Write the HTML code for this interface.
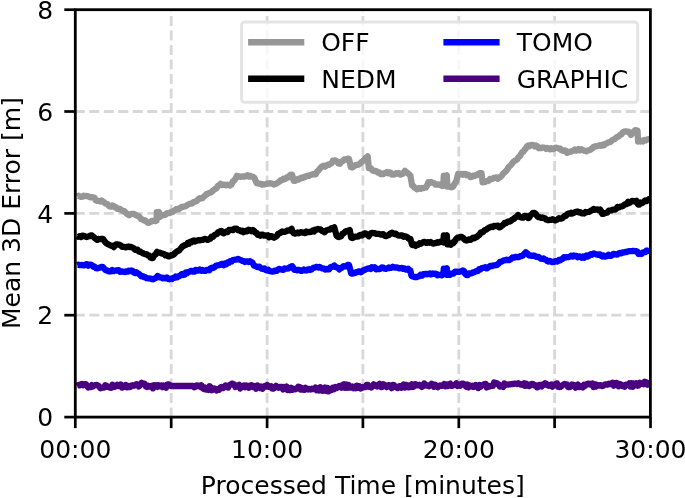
<!DOCTYPE html>
<html lang="en"><head><meta charset="utf-8"><title>Mean 3D Error vs Processed Time</title>
<style>html,body{margin:0;padding:0;background:#fff}body{width:685px;height:498px;overflow:hidden}</style>
</head><body>
<svg width="685" height="498" viewBox="0 0 685 498" style="display:block">
<rect width="685" height="498" fill="#fff"/>
<g stroke="#d8d8d8" stroke-width="2.8" stroke-dasharray="10 4.5" fill="none"><line x1="171.2" y1="417.1" x2="171.2" y2="9.7" stroke-dashoffset="0.4"/><line x1="267.1" y1="417.1" x2="267.1" y2="9.7" stroke-dashoffset="0.4"/><line x1="362.9" y1="417.1" x2="362.9" y2="9.7" stroke-dashoffset="0.4"/><line x1="458.8" y1="417.1" x2="458.8" y2="9.7" stroke-dashoffset="0.4"/><line x1="554.6" y1="417.1" x2="554.6" y2="9.7" stroke-dashoffset="0.4"/><line x1="75.3" y1="315.2" x2="650.5" y2="315.2" stroke-dashoffset="0.5"/><line x1="75.3" y1="213.4" x2="650.5" y2="213.4" stroke-dashoffset="0.5"/><line x1="75.3" y1="111.5" x2="650.5" y2="111.5" stroke-dashoffset="0.5"/></g>
<defs><clipPath id="ax"><rect x="75.3" y="9.7" width="575.1" height="407.4"/></clipPath></defs>
<g clip-path="url(#ax)" fill="none" stroke-width="6.3" stroke-linejoin="round" stroke-linecap="butt">
<path stroke="#969696" d="M77.4 196.6 L78.5 195.8 L79.5 196.4 L80.9 196.9 L82.3 196.7 L83.6 195.7 L85.0 196.1 L86.4 196.0 L87.8 196.2 L89.2 196.8 L90.5 197.3 L91.9 197.1 L93.3 197.3 L94.7 198.1 L96.0 200.5 L97.4 200.8 L98.8 200.9 L100.1 201.6 L101.5 200.4 L102.8 201.5 L104.2 202.3 L105.5 203.7 L106.9 203.8 L108.3 205.2 L109.6 206.4 L110.9 206.7 L112.2 205.5 L113.4 205.8 L114.7 207.1 L116.0 207.4 L117.3 208.9 L118.6 208.6 L120.0 209.0 L121.3 210.1 L122.6 210.9 L123.9 210.9 L125.2 212.1 L126.5 213.4 L127.8 214.3 L129.1 215.2 L130.6 214.3 L132.0 213.8 L133.5 213.9 L134.8 214.2 L136.1 215.4 L137.5 215.9 L138.8 216.2 L140.1 217.9 L141.4 219.3 L142.7 219.6 L144.0 220.5 L145.3 220.5 L146.6 221.8 L147.9 222.8 L149.2 222.6 L150.5 222.0 L151.8 220.9 L153.0 220.9 L154.3 220.8 L155.4 221.1 L156.6 220.6 L156.8 212.2 L157.9 212.5 L158.9 212.0 L159.2 216.2 L160.3 216.7 L161.5 215.6 L162.9 214.9 L164.3 215.2 L165.7 214.4 L167.0 213.2 L168.4 213.2 L169.8 213.2 L171.2 212.0 L172.5 212.1 L173.7 210.9 L175.0 210.5 L176.3 209.0 L177.6 208.8 L178.8 209.2 L180.1 208.0 L181.4 207.0 L182.6 207.1 L183.9 206.5 L185.2 206.3 L186.5 205.7 L187.8 204.6 L189.1 204.1 L190.4 203.7 L191.8 203.6 L193.1 202.5 L194.4 201.7 L195.7 201.4 L197.0 200.8 L198.4 199.1 L199.7 198.2 L201.1 198.5 L202.4 198.2 L203.8 196.6 L205.2 195.4 L206.5 194.1 L207.9 193.8 L209.3 192.8 L210.7 192.7 L212.2 191.4 L213.6 190.0 L215.0 189.0 L216.4 188.4 L217.8 186.0 L219.1 185.2 L220.5 183.9 L221.9 185.1 L223.2 184.7 L224.6 184.9 L226.0 185.3 L227.3 184.7 L228.7 185.0 L230.1 185.6 L231.4 184.6 L232.8 181.5 L234.2 180.7 L235.5 178.6 L236.9 175.8 L238.2 176.6 L239.5 176.5 L240.9 176.8 L242.2 176.4 L243.5 176.5 L244.8 176.5 L246.1 176.1 L247.4 175.3 L248.7 176.6 L250.0 175.8 L251.5 176.7 L252.9 176.7 L254.4 178.0 L255.5 180.6 L256.6 183.1 L258.0 183.4 L259.4 183.6 L260.7 183.9 L262.1 184.6 L263.5 184.4 L264.9 184.3 L266.2 184.0 L267.6 183.5 L268.9 183.6 L270.2 183.1 L271.5 183.7 L272.8 183.8 L274.1 184.6 L275.4 183.9 L276.7 183.5 L278.1 182.5 L279.4 181.6 L280.7 180.2 L282.0 180.3 L283.3 178.8 L284.5 179.4 L285.8 178.6 L287.1 177.1 L288.4 177.4 L289.6 175.6 L290.9 174.7 L292.1 174.7 L293.8 180.9 L295.1 180.9 L296.3 179.6 L297.6 179.0 L298.8 179.5 L300.1 178.5 L301.3 177.6 L302.6 178.0 L303.9 176.9 L305.1 177.1 L306.4 176.0 L307.6 175.7 L308.9 176.0 L310.1 175.1 L311.4 174.7 L312.8 174.2 L314.3 174.4 L315.7 174.3 L317.1 171.6 L318.4 170.5 L319.8 168.8 L321.2 167.1 L322.5 166.2 L323.8 165.7 L325.0 166.7 L326.3 165.7 L327.6 164.7 L328.9 164.9 L330.2 164.0 L331.6 163.3 L332.9 160.7 L334.3 160.5 L335.7 160.5 L337.1 161.5 L338.4 163.4 L339.8 163.8 L341.3 161.7 L342.7 161.2 L344.2 159.4 L345.4 159.6 L346.6 159.3 L347.8 158.6 L349.0 159.0 L350.8 167.1 L352.1 167.5 L353.4 166.8 L354.7 165.8 L356.0 164.8 L357.3 164.9 L358.6 164.5 L360.0 163.6 L361.5 162.0 L362.9 160.9 L364.4 159.3 L365.5 158.0 L366.6 157.6 L367.7 156.4 L368.8 168.0 L370.1 167.8 L371.4 168.8 L372.7 170.6 L374.0 171.0 L375.3 170.9 L376.6 171.2 L377.9 172.7 L379.3 172.4 L380.6 174.1 L381.9 173.9 L383.2 174.1 L384.5 173.2 L385.8 172.7 L387.0 172.0 L388.3 173.3 L389.6 172.4 L390.7 172.7 L391.8 174.6 L393.2 174.7 L394.7 174.4 L396.1 173.1 L397.5 173.5 L398.9 173.1 L400.2 174.6 L401.6 174.2 L402.7 174.0 L403.8 172.4 L404.9 170.9 L406.3 172.1 L407.6 173.1 L409.0 174.2 L410.4 175.7 L412.1 185.5 L413.3 185.9 L414.5 187.7 L415.7 188.2 L416.9 189.3 L418.2 188.5 L419.4 188.1 L420.7 188.9 L421.9 188.0 L423.2 188.2 L424.4 187.6 L425.7 187.7 L427.0 185.7 L428.3 182.3 L429.5 183.2 L430.8 181.9 L432.0 182.4 L433.3 182.9 L434.5 183.4 L435.8 184.7 L437.1 184.7 L438.4 184.4 L439.7 184.6 L441.0 185.5 L442.1 186.0 L443.2 185.8 L443.8 175.6 L445.3 176.6 L446.8 175.4 L447.4 186.6 L449.3 186.6 L450.6 187.2 L451.8 187.4 L453.1 186.6 L454.7 183.6 L456.3 181.2 L458.1 173.9 L459.3 174.6 L460.5 174.2 L461.6 173.9 L462.8 174.8 L464.0 173.9 L465.3 173.9 L466.6 175.3 L467.9 174.6 L469.1 175.2 L470.4 177.1 L471.7 176.8 L473.0 175.7 L474.3 176.1 L475.6 175.2 L476.9 175.1 L478.2 173.9 L479.3 173.4 L480.4 173.1 L481.5 173.1 L482.6 182.3 L483.9 181.5 L485.1 182.0 L486.4 181.1 L487.6 181.2 L488.9 180.6 L490.1 178.8 L491.4 179.0 L492.7 178.9 L493.9 177.9 L495.2 177.6 L496.5 177.5 L497.7 178.7 L499.0 177.9 L500.4 177.0 L501.8 175.7 L503.1 173.5 L504.5 172.4 L505.9 171.0 L507.2 169.6 L508.6 167.2 L510.0 165.8 L511.2 164.8 L512.4 163.0 L513.6 161.6 L514.8 160.8 L516.0 160.1 L517.2 159.3 L518.5 157.2 L519.7 156.4 L521.0 154.0 L522.2 152.2 L523.5 151.6 L524.7 149.6 L525.8 148.6 L526.9 146.5 L528.2 145.4 L529.5 146.3 L530.9 145.0 L532.2 144.8 L533.5 145.2 L534.8 146.5 L536.1 145.5 L537.4 146.4 L538.7 148.3 L540.0 148.0 L541.3 148.0 L542.5 147.5 L543.8 147.7 L545.0 147.9 L546.3 148.9 L547.5 147.9 L548.8 148.7 L550.1 149.3 L551.3 148.3 L552.6 149.2 L553.8 149.0 L555.1 147.8 L556.3 147.7 L557.6 148.0 L559.0 148.7 L560.3 148.7 L561.6 150.4 L563.0 150.9 L564.4 150.4 L565.8 150.8 L567.1 152.9 L568.5 152.4 L569.7 151.6 L571.0 151.7 L572.2 151.1 L573.5 150.4 L574.7 149.6 L575.9 150.7 L577.2 150.4 L578.4 149.1 L579.8 150.3 L581.1 149.2 L582.4 149.8 L583.8 150.7 L585.2 150.8 L586.5 151.3 L587.9 150.4 L589.3 150.2 L590.7 149.6 L592.0 148.6 L593.4 147.0 L594.8 146.5 L596.1 146.4 L597.4 145.9 L598.7 145.6 L600.0 145.2 L601.3 145.8 L602.6 144.8 L603.9 145.4 L605.3 143.8 L606.6 143.5 L607.9 142.6 L609.2 142.2 L610.5 142.1 L611.9 140.4 L613.2 139.6 L614.5 139.3 L615.9 137.9 L617.2 136.8 L618.6 136.6 L620.0 134.9 L621.4 134.5 L622.9 132.3 L624.3 131.6 L625.8 131.3 L627.2 131.7 L628.7 131.6 L629.8 133.4 L630.9 134.9 L632.0 133.8 L633.1 132.0 L634.2 131.2 L635.3 130.1 L636.4 130.3 L637.5 130.5 L638.1 141.5 L639.3 140.7 L640.5 141.6 L641.7 140.7 L642.9 141.5 L644.4 140.0 L645.8 140.3 L647.3 139.3 L648.6 139.2 L650.0 139.9"/>
<path stroke="#000" d="M77.2 236.0 L78.3 236.9 L79.5 236.2 L81.0 237.1 L82.4 235.6 L83.8 235.8 L85.3 236.6 L86.6 237.0 L87.9 236.6 L89.3 236.2 L90.6 235.4 L91.9 235.5 L93.3 236.8 L94.7 237.9 L96.0 238.9 L97.4 239.9 L98.8 239.0 L100.1 239.2 L101.5 238.9 L102.8 238.8 L104.2 240.6 L105.5 242.4 L106.9 243.7 L108.3 244.3 L109.7 245.1 L111.0 245.6 L112.4 246.0 L113.8 247.1 L114.9 245.3 L116.0 244.4 L117.1 244.3 L118.4 244.7 L119.6 244.9 L120.9 245.5 L122.2 246.9 L123.4 246.7 L124.7 247.1 L126.0 247.3 L127.3 246.8 L128.6 246.5 L129.8 247.1 L131.1 246.9 L132.4 247.6 L133.7 248.3 L135.0 249.8 L136.2 249.9 L137.5 249.6 L138.8 251.6 L140.1 251.5 L141.4 252.6 L142.7 253.0 L144.0 253.8 L145.3 254.1 L146.6 254.1 L147.8 255.4 L149.1 255.4 L150.3 257.4 L151.6 258.1 L152.8 258.1 L154.2 255.4 L155.7 254.4 L157.1 251.9 L158.5 252.7 L159.9 252.7 L161.4 253.3 L162.8 253.6 L164.2 254.1 L165.5 255.4 L166.9 255.2 L168.2 256.3 L169.6 256.3 L171.0 255.2 L172.3 255.3 L173.7 254.5 L175.1 253.0 L176.4 251.9 L177.6 251.1 L178.9 250.7 L180.1 249.3 L181.4 247.8 L182.6 246.3 L183.9 245.8 L185.1 244.8 L186.4 244.8 L187.6 243.1 L188.9 243.8 L190.1 242.0 L191.4 242.4 L192.6 241.0 L193.9 240.5 L195.1 241.5 L196.4 240.9 L197.6 240.4 L198.9 240.2 L200.1 240.3 L201.4 239.9 L202.6 239.9 L203.9 239.2 L205.1 238.9 L206.4 239.3 L207.6 239.9 L208.9 239.2 L210.1 238.8 L211.6 236.7 L213.0 236.8 L214.5 234.9 L215.7 234.5 L216.9 234.1 L218.1 232.1 L219.3 232.3 L220.5 231.1 L221.6 231.0 L222.7 232.8 L223.8 233.3 L225.1 232.2 L226.4 231.5 L227.7 232.0 L229.0 230.0 L230.3 230.0 L231.6 229.8 L232.9 230.2 L234.3 228.9 L235.6 228.6 L236.9 228.9 L238.2 230.2 L239.5 230.1 L240.9 231.3 L242.2 230.7 L243.5 232.2 L244.8 231.5 L246.1 230.7 L247.4 231.2 L248.7 229.7 L250.0 230.0 L251.5 231.2 L252.9 229.9 L254.4 231.1 L255.5 232.8 L256.6 232.8 L257.7 234.9 L259.0 234.6 L260.3 235.7 L261.5 234.6 L262.8 234.7 L264.1 235.7 L265.4 235.5 L266.6 235.6 L267.9 235.3 L269.1 237.3 L270.4 236.1 L271.6 236.2 L272.9 237.1 L274.1 237.7 L275.5 236.8 L276.9 235.9 L278.2 233.7 L279.6 233.3 L280.9 232.5 L282.2 231.5 L283.5 231.8 L284.7 231.9 L286.0 231.4 L287.3 230.5 L288.7 230.7 L290.2 229.9 L291.6 228.9 L292.7 231.8 L293.8 233.3 L295.1 233.6 L296.3 233.1 L297.6 232.5 L298.8 233.2 L300.1 232.5 L301.3 232.1 L302.6 232.7 L303.9 232.5 L305.1 233.1 L306.4 231.6 L307.6 232.3 L308.9 231.9 L310.1 232.0 L311.4 231.8 L312.7 230.6 L314.0 231.5 L315.3 229.6 L316.6 229.7 L317.9 228.9 L319.2 229.4 L320.5 229.4 L321.9 231.0 L323.2 230.9 L324.5 232.2 L325.9 230.8 L327.2 230.1 L328.6 229.6 L330.0 229.6 L331.4 228.1 L332.9 228.4 L334.3 227.4 L335.4 231.5 L336.5 235.5 L337.6 236.7 L338.7 237.0 L339.8 236.6 L341.1 236.4 L342.4 233.9 L343.8 233.2 L345.1 231.8 L346.4 231.1 L347.5 230.9 L348.6 230.6 L349.7 230.0 L351.2 237.7 L352.4 238.0 L353.6 237.6 L354.9 236.6 L356.1 236.7 L357.3 236.6 L358.5 236.4 L359.6 235.2 L360.8 234.9 L362.0 235.5 L363.2 234.6 L364.3 233.3 L365.5 233.3 L366.6 234.7 L367.7 234.8 L368.8 236.2 L369.9 234.0 L370.9 233.3 L372.3 232.9 L373.6 233.1 L375.0 233.2 L376.4 233.9 L377.8 233.9 L379.1 233.8 L380.5 234.5 L381.9 234.4 L383.3 234.2 L384.6 235.7 L386.0 236.1 L387.4 235.5 L388.9 235.0 L390.3 233.5 L391.8 232.7 L393.1 233.3 L394.4 234.0 L395.7 233.6 L397.0 234.8 L398.3 235.5 L399.6 235.7 L400.9 235.3 L402.1 235.3 L403.4 236.8 L404.7 236.2 L406.0 236.6 L407.5 237.4 L408.9 238.8 L410.4 238.8 L412.1 244.9 L413.3 245.1 L414.5 244.5 L415.6 245.8 L416.8 244.7 L418.0 244.9 L419.5 243.3 L420.9 243.8 L422.4 242.7 L423.8 241.8 L425.1 242.1 L426.5 242.9 L427.9 242.1 L429.3 242.8 L430.6 242.0 L432.0 243.1 L433.4 243.6 L434.7 243.1 L436.0 243.0 L437.3 242.2 L438.6 242.6 L439.9 242.1 L441.0 241.4 L442.1 241.9 L443.2 242.4 L443.8 235.4 L445.3 236.2 L446.8 235.2 L447.4 244.3 L448.6 244.1 L449.8 244.3 L450.9 244.7 L452.0 242.8 L453.1 243.2 L454.5 241.8 L456.0 239.0 L457.4 237.7 L458.9 237.6 L460.3 237.0 L461.8 237.0 L463.3 238.1 L464.7 239.8 L466.2 240.5 L467.7 240.1 L469.1 239.4 L470.6 239.9 L471.9 238.5 L473.1 237.7 L474.4 238.3 L475.7 237.2 L476.9 237.1 L478.2 235.5 L479.5 234.7 L480.8 232.4 L482.2 232.5 L483.5 231.6 L484.8 230.0 L486.1 229.7 L487.4 228.7 L488.8 227.8 L490.1 227.3 L491.4 226.7 L492.7 227.0 L494.0 225.9 L495.3 226.1 L496.6 225.9 L497.9 225.7 L499.0 227.4 L500.4 227.1 L501.8 225.7 L503.1 224.9 L504.5 223.0 L505.9 223.2 L507.2 221.9 L508.6 221.4 L510.0 221.5 L511.3 220.6 L512.5 219.4 L513.8 219.0 L515.2 217.5 L516.7 216.7 L518.1 215.0 L519.2 216.7 L520.3 217.0 L521.4 217.7 L522.9 217.7 L524.3 215.9 L525.8 216.1 L526.9 216.4 L528.0 218.1 L529.1 217.7 L530.4 215.4 L531.7 214.3 L533.0 212.8 L534.4 212.9 L535.8 213.8 L537.2 216.2 L538.6 217.2 L540.0 217.2 L541.3 217.9 L542.5 217.4 L543.8 218.1 L545.0 218.4 L546.3 219.6 L547.5 220.0 L548.8 220.1 L550.1 219.9 L551.3 219.9 L552.6 219.1 L553.8 219.8 L555.1 220.4 L556.3 220.0 L557.6 219.4 L559.0 218.2 L560.3 218.6 L561.6 218.5 L563.0 217.7 L564.5 216.0 L565.9 215.9 L567.4 213.9 L568.7 213.5 L569.9 213.7 L571.2 212.8 L572.4 213.6 L573.7 212.9 L574.9 212.2 L576.2 211.8 L577.6 211.5 L578.9 212.4 L580.2 212.1 L581.6 213.3 L582.9 213.2 L584.2 213.5 L585.5 212.0 L586.7 212.3 L588.0 212.0 L589.3 211.8 L590.8 210.7 L592.2 210.2 L593.7 208.9 L595.0 209.8 L596.3 209.5 L597.6 209.3 L598.9 210.3 L600.2 209.6 L601.3 211.4 L602.4 213.9 L603.7 213.8 L605.0 213.1 L606.2 212.8 L607.5 212.4 L608.8 210.7 L610.1 210.7 L611.4 210.4 L612.6 209.6 L613.9 209.6 L615.1 209.7 L616.4 208.6 L617.6 207.0 L618.9 207.4 L620.2 206.7 L621.5 206.5 L622.8 206.1 L624.1 205.0 L625.4 204.1 L626.7 204.0 L628.0 201.9 L629.4 202.9 L630.7 201.9 L632.0 200.8 L633.5 201.0 L634.9 201.5 L636.4 200.8 L638.1 204.5 L639.3 204.6 L640.5 202.6 L641.6 203.3 L642.8 202.6 L644.0 201.5 L645.2 200.5 L646.4 201.1 L647.6 200.3 L648.8 199.2 L650.0 199.3"/>
<path stroke="#0000ff" d="M77.2 265.0 L78.3 264.6 L79.5 265.1 L80.7 265.2 L82.0 264.9 L83.2 265.3 L84.5 265.3 L85.7 264.3 L86.9 264.2 L88.2 265.7 L89.4 264.7 L90.7 264.6 L91.9 265.1 L93.3 266.8 L94.7 266.7 L96.0 268.2 L97.4 268.4 L98.8 267.8 L100.3 267.6 L101.7 266.8 L103.0 267.1 L104.3 268.8 L105.7 270.1 L107.0 270.4 L108.3 271.2 L109.6 271.5 L110.9 271.3 L112.2 270.1 L113.4 271.2 L114.7 270.8 L116.0 270.5 L117.3 270.4 L118.6 270.1 L120.0 271.8 L121.3 271.3 L122.6 271.6 L123.8 271.8 L125.1 272.0 L126.3 271.5 L127.6 271.7 L128.8 270.6 L130.1 271.2 L131.3 270.5 L132.6 271.0 L133.8 272.5 L135.1 273.1 L136.3 272.3 L137.6 273.0 L138.8 273.8 L140.1 274.9 L141.4 276.4 L142.7 276.1 L144.0 277.1 L145.3 277.2 L146.6 278.2 L147.9 278.4 L149.2 278.4 L150.6 278.6 L151.9 279.2 L153.2 279.3 L154.7 278.4 L156.1 277.8 L157.6 276.0 L158.9 276.7 L160.2 277.5 L161.6 277.7 L162.9 278.3 L164.2 277.8 L165.5 278.3 L166.8 277.5 L168.1 278.9 L169.4 279.3 L170.7 278.6 L172.0 279.0 L173.2 278.0 L174.5 277.9 L175.7 276.6 L177.0 277.3 L178.2 276.5 L179.5 276.0 L180.7 275.1 L182.0 274.1 L183.2 275.0 L184.5 274.7 L185.7 272.5 L187.0 273.2 L188.2 272.1 L189.5 271.7 L190.7 271.0 L192.0 271.0 L193.2 271.7 L194.5 271.6 L195.7 269.9 L197.0 270.5 L198.4 270.6 L199.7 269.5 L201.1 270.7 L202.4 269.9 L203.8 270.8 L205.2 270.9 L206.5 270.0 L207.9 269.9 L209.2 270.3 L210.5 268.5 L211.9 267.6 L213.2 268.0 L214.5 267.3 L215.9 265.8 L217.3 265.4 L218.8 265.2 L220.2 264.9 L221.6 264.0 L222.7 263.9 L223.8 265.1 L225.1 263.5 L226.4 264.2 L227.7 262.4 L229.0 262.7 L230.3 261.1 L231.6 261.4 L232.9 260.1 L234.2 259.9 L235.4 259.7 L236.7 259.5 L238.0 258.9 L239.4 259.6 L240.8 260.1 L242.1 260.8 L243.5 261.1 L244.8 262.0 L246.0 261.3 L247.3 261.3 L248.6 262.0 L249.8 261.2 L251.1 261.8 L252.6 262.9 L254.0 265.6 L255.5 266.2 L256.8 266.7 L258.1 267.2 L259.4 266.7 L260.6 267.9 L261.9 268.7 L263.2 269.0 L264.4 268.5 L265.7 270.0 L266.9 270.4 L268.2 269.7 L269.4 271.1 L270.7 271.2 L271.9 271.6 L273.2 271.6 L274.4 270.7 L275.7 271.0 L276.9 270.8 L278.2 269.2 L279.4 268.9 L280.7 269.4 L282.0 269.6 L283.3 269.9 L284.5 268.5 L285.8 268.7 L287.1 268.7 L288.4 268.4 L289.6 267.3 L290.9 266.7 L292.1 266.2 L293.2 267.7 L294.3 269.9 L295.7 269.8 L297.1 270.3 L298.5 269.8 L299.8 270.1 L301.2 270.9 L302.6 270.5 L303.9 269.5 L305.1 270.3 L306.4 270.5 L307.6 269.5 L308.9 269.2 L310.1 270.1 L311.4 269.4 L312.8 268.3 L314.1 267.5 L315.4 267.3 L316.8 266.8 L318.2 267.6 L319.6 266.9 L320.9 267.7 L322.3 268.4 L323.7 268.4 L325.1 269.5 L326.4 269.0 L327.8 269.4 L329.1 269.3 L330.4 267.2 L331.7 266.8 L333.0 266.6 L334.3 265.5 L335.6 267.2 L336.9 267.4 L338.1 267.9 L339.4 269.4 L340.6 267.9 L341.8 267.9 L343.0 266.4 L344.2 266.2 L345.4 266.5 L346.6 266.3 L347.8 264.8 L349.0 265.1 L350.1 268.9 L351.2 273.4 L352.4 273.7 L353.6 273.1 L354.9 273.2 L356.1 272.1 L357.3 272.1 L358.5 271.3 L359.6 271.4 L360.8 272.2 L362.0 271.5 L363.1 270.5 L364.3 270.0 L365.5 269.5 L366.6 269.0 L367.9 268.6 L369.2 268.3 L370.5 269.0 L371.8 267.3 L373.1 267.7 L374.6 267.2 L376.0 269.4 L377.5 269.0 L379.0 269.1 L380.4 268.7 L381.9 267.3 L383.3 267.5 L384.6 268.7 L386.0 268.9 L387.4 268.4 L388.8 267.5 L390.1 268.0 L391.4 267.8 L392.8 266.8 L394.1 267.4 L395.4 267.5 L396.8 267.4 L398.1 267.8 L399.4 268.4 L400.7 268.0 L402.0 267.8 L403.2 268.9 L404.5 268.4 L405.8 269.5 L407.1 269.0 L408.2 268.7 L409.3 270.7 L410.4 270.5 L411.5 276.0 L412.8 276.4 L414.1 277.0 L415.4 277.0 L416.7 277.1 L418.0 276.5 L419.3 276.2 L420.6 274.7 L422.0 275.6 L423.3 274.1 L424.6 274.3 L425.9 273.8 L427.2 274.3 L428.5 273.9 L429.7 273.5 L431.0 274.3 L432.3 273.4 L433.6 273.9 L434.9 273.7 L436.2 273.9 L437.5 275.3 L438.8 274.9 L440.3 274.8 L441.7 275.3 L443.2 274.7 L443.8 268.6 L445.3 269.2 L446.8 268.2 L447.4 274.9 L448.6 274.6 L449.8 274.9 L451.1 273.7 L452.4 273.6 L453.7 273.5 L455.0 271.7 L456.3 271.6 L457.6 271.9 L458.9 271.9 L460.3 271.5 L461.6 271.3 L462.9 270.5 L464.0 271.1 L465.1 273.7 L466.2 274.9 L467.6 275.2 L468.9 273.3 L470.3 273.4 L471.7 273.4 L472.9 272.4 L474.2 272.3 L475.4 271.5 L476.7 271.1 L477.9 271.0 L479.2 269.1 L480.4 269.4 L481.7 268.2 L482.9 268.0 L484.2 267.6 L485.4 267.1 L486.7 268.4 L487.9 267.8 L489.2 266.8 L490.5 265.8 L491.8 266.2 L493.0 265.6 L494.3 265.3 L495.6 265.1 L496.9 265.1 L498.5 263.7 L500.1 261.8 L501.3 261.7 L502.6 261.0 L503.8 260.4 L505.1 260.3 L506.3 259.7 L507.5 260.2 L508.8 260.2 L510.0 259.5 L511.3 258.7 L512.5 257.5 L513.8 257.7 L515.1 256.9 L516.3 257.0 L517.6 257.1 L518.9 257.2 L520.1 256.2 L521.4 256.2 L522.9 255.4 L524.3 253.8 L525.8 252.3 L526.9 253.2 L528.0 254.2 L529.1 255.5 L530.6 255.5 L532.0 255.9 L533.5 255.5 L534.7 255.8 L536.0 256.8 L537.2 256.8 L538.5 256.9 L539.7 257.9 L541.0 258.7 L542.2 258.8 L543.5 258.4 L544.7 259.4 L546.0 259.8 L547.2 261.0 L548.5 261.5 L549.7 260.9 L551.0 261.5 L552.3 262.2 L553.6 262.0 L555.0 261.1 L556.3 261.4 L557.6 261.5 L558.9 259.9 L560.2 260.3 L561.5 259.2 L562.8 258.7 L564.1 257.1 L565.5 257.5 L566.9 257.2 L568.2 257.2 L569.6 256.8 L571.0 255.8 L572.4 256.6 L573.7 255.4 L575.1 256.2 L576.4 255.9 L577.7 257.3 L579.0 256.3 L580.3 256.7 L581.6 257.7 L582.9 256.6 L584.2 257.7 L585.5 256.0 L586.7 255.4 L588.0 256.5 L589.3 255.5 L590.8 254.1 L592.2 254.7 L593.7 253.4 L595.0 253.9 L596.3 254.4 L597.6 254.8 L598.9 254.3 L600.2 254.4 L601.3 256.0 L602.4 256.6 L603.6 255.6 L604.9 256.7 L606.1 256.0 L607.3 256.1 L608.6 254.8 L609.8 255.8 L611.1 255.9 L612.3 254.9 L613.5 253.9 L614.8 254.2 L616.0 254.4 L617.3 254.6 L618.5 253.4 L619.8 253.0 L621.0 253.4 L622.5 252.4 L623.9 252.5 L625.4 251.8 L626.7 252.1 L628.0 251.4 L629.4 251.2 L630.7 251.1 L632.0 251.2 L633.5 250.9 L634.9 251.1 L636.4 251.2 L637.5 251.8 L638.6 254.0 L640.0 253.6 L641.3 254.0 L642.6 252.6 L644.0 252.3 L645.2 252.2 L646.4 250.6 L647.6 251.0 L648.8 250.6 L650.0 249.6"/>
<path stroke="#4b0082" d="M76.9 385.8 L78.5 385.0 L79.5 385.4 L80.7 384.5 L82.0 384.0 L83.2 385.2 L84.4 384.4 L85.7 384.1 L86.9 385.5 L88.1 387.5 L89.3 387.1 L90.6 387.1 L91.8 385.1 L93.0 386.4 L94.3 385.5 L95.5 385.1 L96.7 385.0 L98.0 385.4 L99.2 386.6 L100.4 388.2 L101.6 387.8 L102.8 387.7 L104.0 387.6 L105.2 385.3 L106.4 385.7 L107.6 386.9 L108.8 387.2 L110.0 387.7 L111.2 387.8 L112.4 384.7 L113.6 386.6 L114.8 386.9 L116.0 386.2 L117.2 384.9 L118.4 386.0 L119.6 386.1 L120.8 384.5 L122.0 387.6 L123.2 387.3 L124.4 386.1 L125.6 385.1 L126.8 387.3 L128.0 386.0 L129.2 387.1 L130.4 386.9 L131.6 385.6 L132.8 385.2 L134.0 385.8 L135.2 385.1 L136.4 384.1 L137.6 384.6 L138.8 386.4 L140.0 385.2 L141.5 382.9 L143.0 384.0 L144.5 383.6 L146.0 386.6 L147.2 387.0 L148.3 385.7 L149.5 386.6 L150.7 386.4 L151.8 385.8 L153.0 388.3 L154.2 385.2 L155.3 386.0 L156.5 385.2 L157.7 386.8 L158.8 385.4 L160.0 386.2 L161.2 385.6 L162.4 387.1 L163.7 385.5 L164.9 386.3 L166.1 387.6 L167.3 384.6 L168.6 384.4 L169.8 385.0 L171.0 386.0 L172.2 386.0 L173.4 386.0 L174.7 386.0 L175.9 386.0 L177.1 386.0 L178.3 386.0 L179.6 386.0 L180.8 386.0 L182.0 386.0 L183.2 386.0 L184.4 386.0 L185.7 386.0 L186.9 386.0 L188.1 386.0 L189.3 386.0 L190.6 386.0 L191.8 386.0 L193.0 386.0 L194.2 387.2 L195.4 386.8 L196.6 385.5 L197.8 386.0 L199.0 385.6 L200.2 386.8 L201.4 385.4 L202.6 388.0 L203.8 388.9 L205.0 387.6 L206.2 389.5 L207.3 388.8 L208.5 389.8 L209.6 386.3 L210.8 387.5 L211.9 390.2 L213.1 389.7 L214.2 388.4 L215.4 388.9 L216.7 390.4 L217.9 389.1 L219.2 389.7 L220.5 387.5 L221.7 387.0 L223.0 388.0 L224.3 387.2 L225.6 385.5 L226.8 385.9 L228.1 387.5 L229.4 385.2 L230.6 384.7 L231.8 383.6 L233.0 383.9 L234.3 384.6 L235.5 387.0 L236.7 385.6 L237.9 385.5 L239.1 384.9 L240.3 388.4 L241.6 386.4 L242.8 385.8 L244.0 385.4 L245.2 387.2 L246.4 385.5 L247.6 385.8 L248.9 387.7 L250.1 385.7 L251.3 385.2 L252.6 386.9 L253.8 385.9 L255.0 386.8 L256.2 388.7 L257.5 385.4 L258.7 386.9 L259.9 387.9 L261.1 386.5 L262.4 388.7 L263.6 386.8 L264.8 385.9 L266.0 386.5 L267.3 385.1 L268.5 386.9 L269.8 386.7 L271.0 386.2 L272.2 388.7 L273.5 388.6 L274.8 387.5 L276.0 385.8 L277.2 386.8 L278.5 387.8 L279.6 386.9 L280.8 386.9 L281.9 387.0 L283.1 389.5 L284.2 386.9 L285.4 388.3 L286.6 386.6 L287.7 389.9 L288.9 388.5 L290.1 390.1 L291.3 387.9 L292.4 389.8 L293.6 388.8 L294.8 389.3 L295.9 389.2 L297.1 388.2 L298.3 386.7 L299.5 387.1 L300.6 389.6 L301.8 388.2 L303.0 389.7 L304.3 389.9 L305.5 387.7 L306.8 388.9 L308.0 389.5 L309.3 388.9 L310.5 389.6 L311.8 388.6 L313.0 389.1 L314.3 389.2 L315.5 387.7 L316.8 390.2 L318.0 388.6 L319.2 390.4 L320.4 387.2 L321.6 390.7 L322.8 390.8 L323.9 389.7 L325.1 387.5 L326.3 390.8 L327.5 388.0 L328.7 391.3 L329.9 389.6 L331.3 390.1 L332.6 387.7 L334.0 389.2 L335.3 387.1 L336.6 388.1 L337.9 387.0 L339.2 385.9 L340.4 386.9 L341.5 387.7 L342.7 385.0 L343.9 384.3 L345.0 387.8 L346.2 384.4 L347.3 387.8 L348.5 384.9 L349.7 387.7 L350.8 387.6 L352.0 386.6 L353.2 388.1 L354.5 386.9 L355.7 388.2 L356.9 385.7 L358.1 387.6 L359.4 386.3 L360.6 388.5 L361.8 388.1 L363.1 387.0 L364.3 387.2 L365.5 387.1 L366.6 385.0 L367.8 384.9 L369.0 386.8 L370.1 386.3 L371.3 387.5 L372.5 386.4 L373.7 384.4 L374.8 385.1 L376.0 385.4 L377.2 386.5 L378.4 385.6 L379.6 383.8 L380.8 387.0 L382.0 387.0 L383.2 384.2 L384.4 386.1 L385.6 385.5 L386.8 387.1 L388.0 385.4 L389.2 385.2 L390.4 386.2 L391.6 388.1 L392.8 384.8 L394.0 385.0 L395.2 387.0 L396.4 386.6 L397.6 388.0 L398.8 386.5 L400.0 386.1 L401.2 387.7 L402.4 387.3 L403.6 384.5 L404.8 387.6 L406.0 384.9 L407.2 385.2 L408.4 387.2 L409.6 385.5 L410.8 386.9 L412.0 384.4 L413.2 387.0 L414.4 384.3 L415.6 384.1 L416.8 385.4 L418.0 385.4 L419.3 384.8 L420.5 385.6 L421.7 386.9 L423.0 386.2 L424.2 383.5 L425.4 384.7 L426.7 385.6 L427.9 385.3 L429.1 386.2 L430.3 385.3 L431.6 383.8 L432.8 384.4 L434.0 386.7 L435.3 384.9 L436.5 386.4 L437.7 387.2 L439.0 385.9 L440.2 385.4 L441.5 385.9 L442.7 385.5 L444.0 384.2 L445.2 386.3 L446.5 384.5 L447.7 386.0 L449.0 384.3 L450.2 383.6 L451.5 385.9 L452.7 385.6 L453.9 385.1 L455.2 384.5 L456.4 383.4 L457.6 385.9 L458.8 384.5 L460.1 385.7 L461.3 383.8 L462.5 383.6 L463.8 384.0 L465.0 385.4 L466.2 386.7 L467.4 384.5 L468.6 387.4 L469.8 385.5 L471.0 386.4 L472.2 385.7 L473.4 386.9 L474.6 386.6 L475.8 385.0 L477.0 386.0 L478.3 388.0 L479.5 385.0 L480.7 386.7 L481.9 385.4 L483.1 385.2 L484.3 384.1 L485.6 384.0 L486.8 387.4 L488.0 385.6 L489.2 386.5 L490.4 386.0 L491.6 385.7 L492.9 385.9 L494.1 382.5 L495.3 383.8 L496.5 383.1 L497.6 383.7 L498.7 384.5 L499.8 386.5 L500.9 385.4 L502.1 386.2 L503.2 386.9 L504.4 383.5 L505.6 384.8 L506.7 384.7 L507.9 384.6 L509.1 384.4 L510.2 384.3 L511.4 384.1 L512.6 384.0 L513.7 383.9 L514.9 383.7 L516.1 383.6 L517.2 384.0 L518.4 383.3 L519.6 384.1 L520.7 384.5 L521.9 384.2 L523.1 385.1 L524.2 383.3 L525.4 385.8 L526.6 383.9 L527.7 384.8 L528.9 386.1 L530.1 385.5 L531.2 384.1 L532.4 384.0 L533.6 384.5 L534.7 385.7 L535.9 385.4 L537.1 387.3 L538.2 386.8 L539.4 384.9 L540.6 384.9 L541.7 386.4 L542.9 384.4 L544.1 384.8 L545.2 383.3 L546.4 383.9 L547.6 385.2 L548.7 385.8 L549.9 385.4 L551.1 384.5 L552.2 386.6 L553.4 384.9 L554.6 385.4 L555.9 383.7 L557.1 383.4 L558.3 386.9 L559.6 387.0 L560.8 386.8 L562.0 385.7 L563.3 384.6 L564.5 383.9 L565.7 384.6 L566.9 384.5 L568.2 387.2 L569.4 387.1 L570.6 386.8 L571.9 384.4 L573.1 384.8 L574.3 385.1 L575.6 387.6 L576.8 386.0 L578.0 384.7 L579.2 387.0 L580.4 386.5 L581.6 385.9 L582.8 387.4 L584.0 384.7 L585.2 385.6 L586.4 384.2 L587.6 383.9 L588.8 383.6 L590.0 384.6 L591.2 383.8 L592.4 383.5 L593.6 387.0 L594.8 384.2 L596.0 386.4 L597.2 384.9 L598.4 385.5 L599.5 385.5 L600.7 385.1 L601.9 386.1 L603.0 385.7 L604.2 385.0 L605.4 384.3 L606.6 384.7 L607.7 384.7 L608.9 383.7 L610.1 384.0 L611.3 384.0 L612.5 382.8 L613.8 385.6 L615.0 384.3 L616.2 382.9 L617.4 383.4 L618.6 386.3 L619.9 384.0 L621.1 384.7 L622.3 386.0 L623.5 385.4 L624.7 386.7 L625.8 384.6 L627.0 384.8 L628.2 384.9 L629.4 383.4 L630.5 386.5 L631.7 383.2 L632.9 386.7 L634.0 383.6 L635.2 384.9 L636.4 383.4 L637.5 385.7 L638.7 385.4 L639.9 382.9 L641.0 383.9 L642.2 383.4 L643.4 384.1 L644.6 381.8 L645.7 384.0 L646.9 382.5 L647.9 384.6 L649.0 383.7 L650.0 383.1"/>
</g>
<rect x="75.3" y="9.7" width="575.1" height="407.4" fill="none" stroke="#000" stroke-width="2.8"/>
<g stroke="#000" stroke-width="2.7"><line x1="75.3" y1="417.1" x2="75.3" y2="428.1"/><line x1="171.2" y1="417.1" x2="171.2" y2="428.1"/><line x1="267.1" y1="417.1" x2="267.1" y2="428.1"/><line x1="362.9" y1="417.1" x2="362.9" y2="428.1"/><line x1="458.8" y1="417.1" x2="458.8" y2="428.1"/><line x1="554.6" y1="417.1" x2="554.6" y2="428.1"/><line x1="650.5" y1="417.1" x2="650.5" y2="428.1"/><line x1="75.3" y1="417.1" x2="64.3" y2="417.1"/><line x1="75.3" y1="315.2" x2="64.3" y2="315.2"/><line x1="75.3" y1="213.4" x2="64.3" y2="213.4"/><line x1="75.3" y1="111.5" x2="64.3" y2="111.5"/><line x1="75.3" y1="9.7" x2="64.3" y2="9.7"/></g>
<g font-family="'DejaVu Sans', 'Liberation Sans', sans-serif" font-size="25" fill="#000">
<text x="75.3" y="458.3" text-anchor="middle">00:00</text>
<text x="267.1" y="458.3" text-anchor="middle">10:00</text>
<text x="458.8" y="458.3" text-anchor="middle">20:00</text>
<text x="650.5" y="458.3" text-anchor="middle">30:00</text>
<text x="53.1" y="426.2" text-anchor="end">0</text>
<text x="53.1" y="324.4" text-anchor="end">2</text>
<text x="53.1" y="222.6" text-anchor="end">4</text>
<text x="53.1" y="120.7" text-anchor="end">6</text>
<text x="53.1" y="18.9" text-anchor="end">8</text>
<text x="362.8" y="493.5" text-anchor="middle">Processed Time [minutes]</text>
<text transform="translate(20.4 213) rotate(-90)" text-anchor="middle">Mean 3D Error [m]</text>
</g>
<rect x="241.6" y="22.1" width="396.1" height="80.1" rx="3" ry="3" fill="#fff" fill-opacity="0.8" stroke="#e4e4e4" stroke-width="3"/>
<g stroke-width="6.4" fill="none">
<line x1="248.1" y1="42.2" x2="304.3" y2="42.2" stroke="#969696"/>
<line x1="248.1" y1="78.7" x2="304.3" y2="78.7" stroke="#000"/>
<line x1="443.4" y1="42.2" x2="499.6" y2="42.2" stroke="#0000ff"/>
<line x1="443.4" y1="78.7" x2="499.6" y2="78.7" stroke="#4b0082"/>
</g>
<g font-family="'DejaVu Sans', 'Liberation Sans', sans-serif" font-size="25" fill="#000">
<text x="321.2" y="50.8">OFF</text>
<text x="321.2" y="87.5">NEDM</text>
<text x="516.7" y="50.8">TOMO</text>
<text x="516.7" y="87.5">GRAPHIC</text>
</g>
</svg>
</body></html>
